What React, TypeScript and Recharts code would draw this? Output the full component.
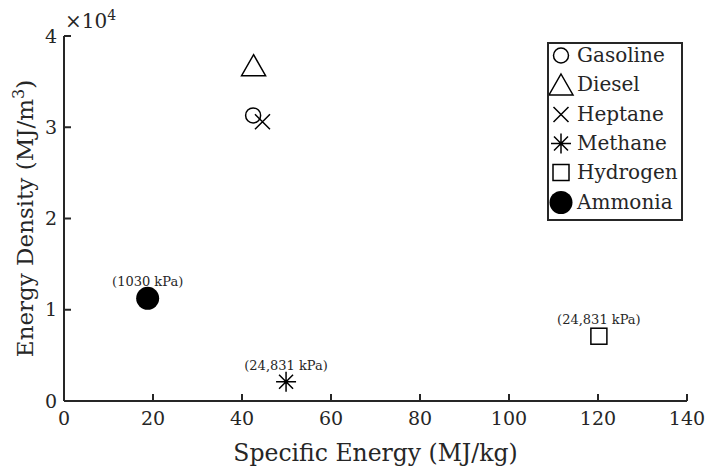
import { Legend, Scatter, ScatterChart, XAxis, YAxis } from 'recharts'

const fuels = ['Gasoline', 'Diesel', 'Heptane', 'Methane', 'Hydrogen', 'Ammonia']
const specificEnergy = [42.5, 42.6, 44.6, 49.9, 120.2, 18.8] // MJ/kg
const energyDensity = [31300, 36800, 30600, 2100, 7100, 11250] // MJ/m3
const pressureNotes = ['', '', '', '(24,831 kPa)', '(24,831 kPa)', '(1030 kPa)']

const xTicks = [0, 20, 40, 60, 80, 100, 120, 140]
const yTicks = [0, 10000, 20000, 30000, 40000]

const FONT = "'DejaVu Serif', serif"
const AXIS = '#262626'

const markerFor: Record<string, string> = {
    Gasoline: 'circle',
    Diesel: 'triangle',
    Heptane: 'x',
    Methane: 'asterisk',
    Hydrogen: 'square',
    Ammonia: 'disc',
}

const Marker = ({ kind, cx, cy }: { kind: string; cx: number; cy: number }) => {
    const s = { fill: 'none', stroke: '#000', strokeWidth: 1.5 }
    switch (kind) {
        case 'circle':
            return <circle cx={cx} cy={cy} r={7.5} {...s} />
        case 'triangle':
            return <polygon points={`${cx},${cy - 10.5} ${cx + 12},${cy + 10.5} ${cx - 12},${cy + 10.5}`} {...s} />
        case 'x':
            return <path d={`M${cx - 7.5},${cy - 7.5}L${cx + 7.5},${cy + 7.5}M${cx - 7.5},${cy + 7.5}L${cx + 7.5},${cy - 7.5}`} {...s} />
        case 'asterisk':
            return (
                <path
                    d={`M${cx},${cy - 10}V${cy + 10}M${cx - 10},${cy}H${cx + 10}M${cx - 7},${cy - 7}L${cx + 7},${cy + 7}M${cx - 7},${cy + 7}L${cx + 7},${cy - 7}`}
                    {...s}
                />
            )
        case 'square':
            return <rect x={cx - 8} y={cy - 8} width={16} height={16} {...s} />
        default:
            return <circle cx={cx} cy={cy} r={11.5} fill="#000" />
    }
}

const pointShape = (kind: string) => (props: any) => {
    const { cx, cy, payload } = props
    return (
        <g>
            <Marker kind={kind} cx={cx} cy={cy} />
            {payload.note ? (
                <text x={cx} y={cy - 12} textAnchor="middle" fontSize={13} fontFamily={FONT} fill={AXIS}>
                    {payload.note}
                </text>
            ) : null}
        </g>
    )
}

const XTitle = (props: any) => {
    const vb = props.viewBox
    return (
        <text x={vb.x + vb.width / 2} y={vb.y + 60} textAnchor="middle" fontSize={23.5} fontFamily={FONT} fill={AXIS}>
            Specific Energy (MJ/kg)
        </text>
    )
}

const YTitle = (props: any) => {
    const vb = props.viewBox
    return (
        <g>
            <text
                transform={`translate(33, ${vb.y + vb.height / 2}) rotate(-90)`}
                textAnchor="middle"
                fontSize={23}
                fontFamily={FONT}
                fill={AXIS}
            >
                Energy Density (MJ/m
                <tspan dy={-9} fontSize={16}>3</tspan>
                <tspan dy={9}>)</tspan>
            </text>
            <text x={vb.x + vb.width + 1} y={vb.y - 8} fontSize={20} fontFamily={FONT} fill={AXIS}>
                ×10
                <tspan dy={-8} fontSize={14}>4</tspan>
            </text>
        </g>
    )
}

const LegendBox = (props: any) => {
    const items = [...(props.payload ?? [])].sort((a: any, b: any) => fuels.indexOf(a.value) - fuels.indexOf(b.value))
    return (
        <div
            style={{
                width: 136,
                height: 179,
                boxSizing: 'border-box',
                border: `2px solid ${AXIS}`,
                background: '#fff',
                overflow: 'hidden',
            }}
        >
            <div style={{ marginTop: -3 }}>
                {items.map((entry: any) => (
                    <div key={entry.value} style={{ display: 'flex', alignItems: 'center', height: 29.3 }}>
                        <svg width={28} height={29} style={{ overflow: 'visible', flex: 'none' }}>
                            <Marker kind={markerFor[entry.value]} cx={12} cy={14.5} />
                        </svg>
                        <span style={{ fontFamily: FONT, fontSize: 20, color: AXIS, lineHeight: '29px', whiteSpace: 'nowrap' }}>
                            {entry.value}
                        </span>
                    </div>
                ))}
            </div>
        </div>
    )
}

const tickStyle = { fill: AXIS, fontSize: 19, fontFamily: FONT }

const App = () => {
    return (
        <div style={{ position: 'absolute', left: 0, top: 0, background: '#fff' }}>
            <ScatterChart width={707} height={468} margin={{ top: 36, right: 20, bottom: 0, left: 0 }}>
                <XAxis
                    type="number"
                    dataKey="x"
                    domain={[0, 140]}
                    ticks={xTicks}
                    allowDataOverflow
                    height={67}
                    tickSize={-7}
                    tickMargin={18}
                    tick={tickStyle}
                    stroke={AXIS}
                    strokeWidth={2}
                    label={XTitle}
                />
                <XAxis
                    xAxisId="top"
                    orientation="top"
                    type="number"
                    dataKey="x"
                    domain={[0, 140]}
                    ticks={xTicks}
                    allowDataOverflow
                    height={0}
                    tickSize={-7}
                    tick={false}
                    stroke={AXIS}
                    strokeWidth={2}
                />
                <YAxis
                    type="number"
                    dataKey="y"
                    domain={[0, 40000]}
                    ticks={yTicks}
                    allowDataOverflow
                    width={64}
                    tickSize={-7}
                    tickMargin={14}
                    tick={tickStyle}
                    tickFormatter={(v: number) => String(v / 10000)}
                    stroke={AXIS}
                    strokeWidth={2}
                    label={YTitle}
                />
                <YAxis
                    yAxisId="right"
                    orientation="right"
                    type="number"
                    dataKey="y"
                    domain={[0, 40000]}
                    ticks={yTicks}
                    allowDataOverflow
                    width={0}
                    tickSize={-7}
                    tick={false}
                    stroke={AXIS}
                    strokeWidth={2}
                />
                <Legend
                    layout="vertical"
                    align="center"
                    verticalAlign="middle"
                    content={LegendBox}
                    wrapperStyle={{ left: 547, top: 42, width: 136, height: 179 }}
                />
                {fuels.map((name, i) => (
                    <Scatter
                        key={name}
                        name={name}
                        data={[{ x: specificEnergy[i], y: energyDensity[i], note: pressureNotes[i] }]}
                        shape={pointShape(markerFor[name])}
                        isAnimationActive={false}
                    />
                ))}
            </ScatterChart>
        </div>
    )
}

export default App
